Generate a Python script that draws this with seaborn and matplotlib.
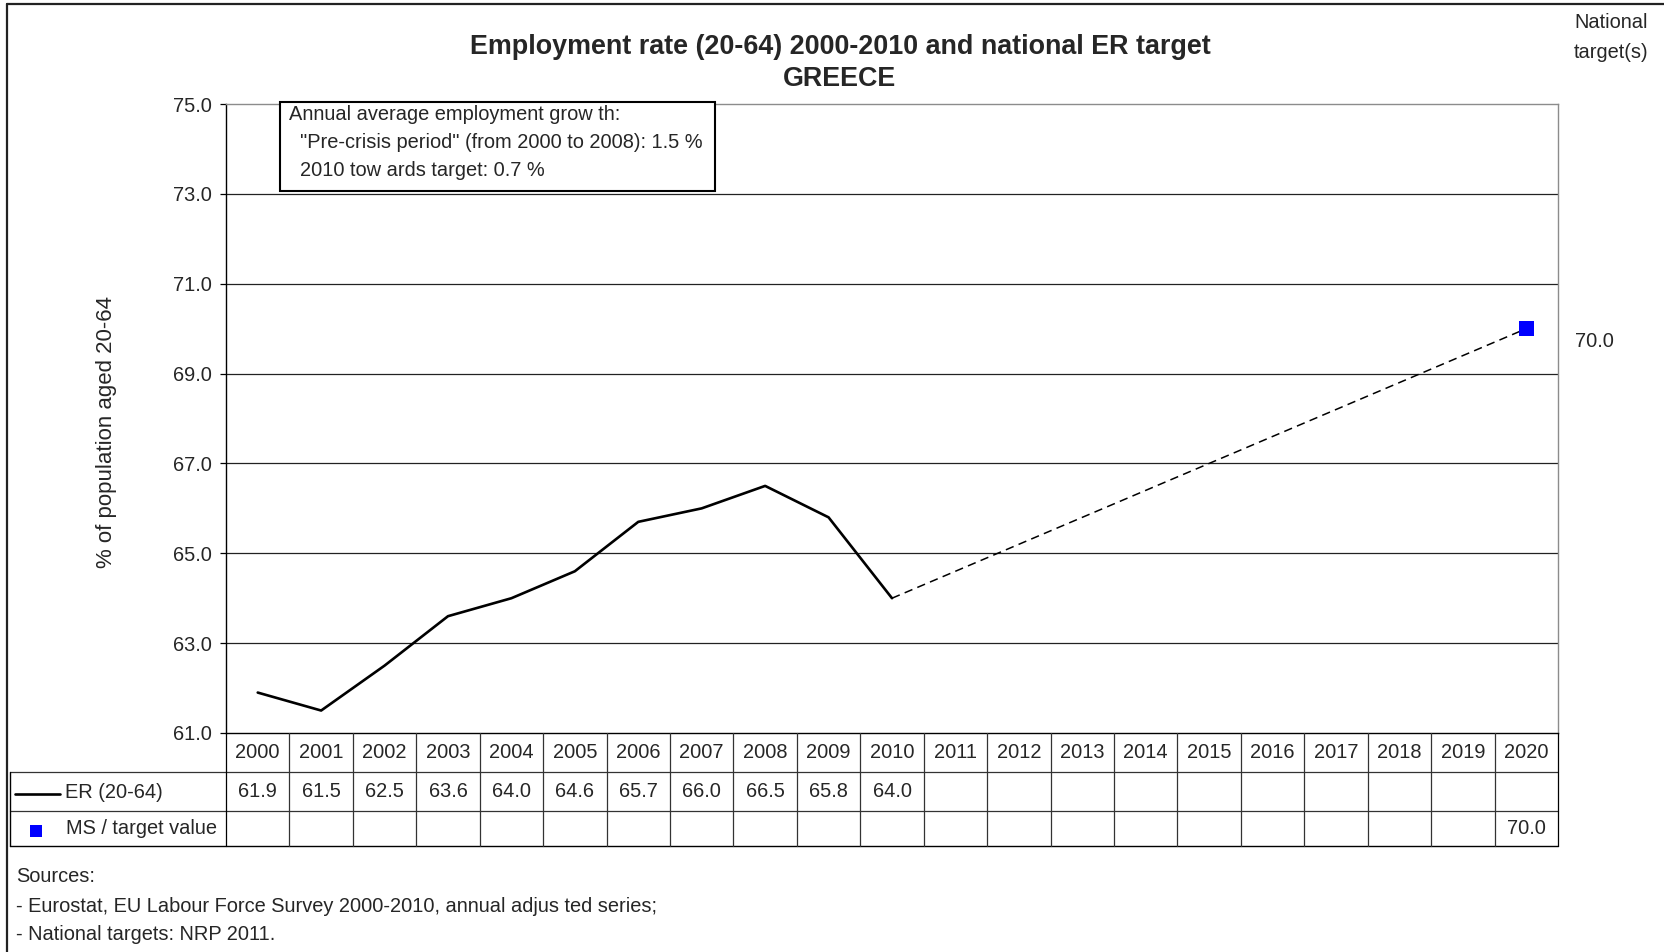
import numpy as np
import pandas as pd
import matplotlib
matplotlib.use("Agg")
import matplotlib.pyplot as plt
from matplotlib.patches import Rectangle
from matplotlib.lines import Line2D
import seaborn as sns

# ---- data ----
er_years = [2000, 2001, 2002, 2003, 2004, 2005, 2006, 2007, 2008, 2009, 2010]
er_values = [61.9, 61.5, 62.5, 63.6, 64.0, 64.6, 65.7, 66.0, 66.5, 65.8, 64.0]
target_year = 2020
target_value = 70.0
all_years = list(range(2000, 2021))
y_ticks = [61.0, 63.0, 65.0, 67.0, 69.0, 71.0, 73.0, 75.0]

title_lines = ["Employment rate (20-64) 2000-2010 and national ER target", "GREECE"]
box_lines = ["Annual average employment grow th:",
             "  \"Pre-crisis period\" (from 2000 to 2008): 1.5 %",
             "  2010 tow ards target: 0.7 %"]
source_lines = ["Sources:",
                "- Eurostat, EU Labour Force Survey 2000-2010, annual adjus ted series;",
                "- National targets: NRP 2011."]
row_labels = ["ER (20-64)", "MS / target value"]

sns.set_style("white")
plt.rcParams["font.family"] = ["Liberation Sans", "DejaVu Sans"]
FS = 14.4

W, H = 1665, 952
fig = plt.figure(figsize=(W / 100, H / 100), dpi=100)


def fx(px):
    return px / W


def fy(py):
    return 1 - py / H


# ---- main plot ----
L, R, T, B = 226, 1558, 104, 733
ax = fig.add_axes([fx(L), fy(B), fx(R - L), (B - T) / H])

er_df = pd.DataFrame({"year": er_years, "rate": er_values})
path_df = pd.DataFrame({"year": [er_years[-1], target_year],
                        "rate": [er_values[-1], target_value]})
tgt_df = pd.DataFrame({"year": [target_year], "rate": [target_value]})

for yv in y_ticks[1:-1]:
    ax.axhline(yv, color="#222222", lw=0.9, zorder=1)

sns.lineplot(data=er_df, x="year", y="rate", ax=ax, color="black", lw=1.9, zorder=3)
sns.lineplot(data=path_df, x="year", y="rate", ax=ax, color="black", lw=1.1,
             dashes=False, zorder=3).lines[-1].set_dashes((5.5, 3.5))
sns.scatterplot(data=tgt_df, x="year", y="rate", ax=ax, marker="s", s=120,
                color="#0000FF", edgecolor="none", zorder=4)

ax.set_xlim(1999.5, 2020.5)
ax.set_ylim(61, 75)
ax.set_yticks(y_ticks)
ax.set_yticklabels([f"{v:.1f}" for v in y_ticks], fontsize=FS)
ax.set_xticks([])
ax.set_xlabel("")
ax.set_ylabel("% of population aged 20-64", fontsize=16)
ax.yaxis.set_label_coords(-(L - 117) / (R - L), (B - 432) / (B - T))
ax.tick_params(axis="y", which="major", left=True, length=4.3, width=0.9,
               color="black", pad=6)
for side in ["top", "right"]:
    ax.spines[side].set_color("#8c8c8c")
    ax.spines[side].set_linewidth(1.0)
for side in ["left", "bottom"]:
    ax.spines[side].set_color("black")
    ax.spines[side].set_linewidth(1.0)

# national target value at the right side
ax.annotate(f"{target_value:.1f}", xy=(1.0, target_value),
            xycoords=("axes fraction", "data"), xytext=(17, -13),
            textcoords="offset pixels", ha="left", va="center", fontsize=FS)
fig.text(fx(1574), fy(23), "National", ha="left", va="center", fontsize=FS)
fig.text(fx(1574), fy(53), "target(s)", ha="left", va="center", fontsize=FS)

# ---- title ----
fig.text(fx(840), fy(47), title_lines[0], ha="center", va="center",
         fontsize=19.4, fontweight="bold")
fig.text(fx(840), fy(79), title_lines[1], ha="center", va="center",
         fontsize=19.4, fontweight="bold")

# ---- info box ----
fig.add_artist(Rectangle((fx(280), fy(191)), fx(715 - 280), (191 - 102) / H,
                         transform=fig.transFigure, facecolor="white",
                         edgecolor="black", lw=1.5, zorder=5))
for txt, yy in zip(box_lines, [114, 142, 170]):
    fig.text(fx(289), fy(yy), txt, ha="left", va="center", fontsize=FS, zorder=6)

# ---- data table below the plot ----
TL, TB = 10, 846
colw = (R - L) / 21
x_left = 1999.5 - (L - TL) / colw
ax_t = fig.add_axes([fx(TL), fy(TB), fx(R - TL), (TB - B) / H])
ax_t.set_xlim(x_left, 2020.5)
ax_t.set_ylim(TB - B, 0)
ax_t.axis("off")


def tx(px):
    return x_left + (px - TL) / colw


line_c = "#333333"
for yy in [39, 78]:
    ax_t.plot([x_left, 2020.5], [yy, yy], color=line_c, lw=0.9, clip_on=False)
ax_t.plot([x_left, 2020.5], [113, 113], color="black", lw=1.0, clip_on=False)
for k in range(22):
    ax_t.plot([1999.5 + k, 1999.5 + k], [0, 113],
              color="black" if k in (0, 21) else line_c, lw=0.9, clip_on=False)
ax_t.plot([x_left, x_left], [39, 113], color="black", lw=1.0, clip_on=False)

for yr in all_years:
    ax_t.text(yr, 19.5, str(yr), ha="center", va="center", fontsize=FS)
for yr, v in zip(er_years, er_values):
    ax_t.text(yr, 58.5, f"{v:.1f}", ha="center", va="center", fontsize=FS)
ax_t.text(target_year, 96, f"{target_value:.1f}", ha="center", va="center", fontsize=FS)

# row legends
ax_t.plot([tx(15), tx(60)], [61, 61], color="black", lw=1.9)
ax_t.scatter([tx(36)], [98], marker="s", s=70, color="#0000FF", edgecolor="none")
ax_t.text(tx(65), 59.5, row_labels[0], ha="left", va="center", fontsize=FS)
ax_t.text(tx(66), 96, row_labels[1], ha="left", va="center", fontsize=FS)

# ---- sources ----
for txt, yy in zip(source_lines, [877, 906, 934]):
    fig.text(fx(16), fy(yy), txt, ha="left", va="center", fontsize=FS)

# ---- outer frame ----
fig.add_artist(Line2D([fx(7), fx(7)], [fy(4), 0], transform=fig.transFigure,
                      color="#222222", lw=1.6))
fig.add_artist(Line2D([fx(7), 1], [fy(4), fy(4)], transform=fig.transFigure,
                      color="#222222", lw=1.6))

fig.savefig("out.png", dpi=100)
